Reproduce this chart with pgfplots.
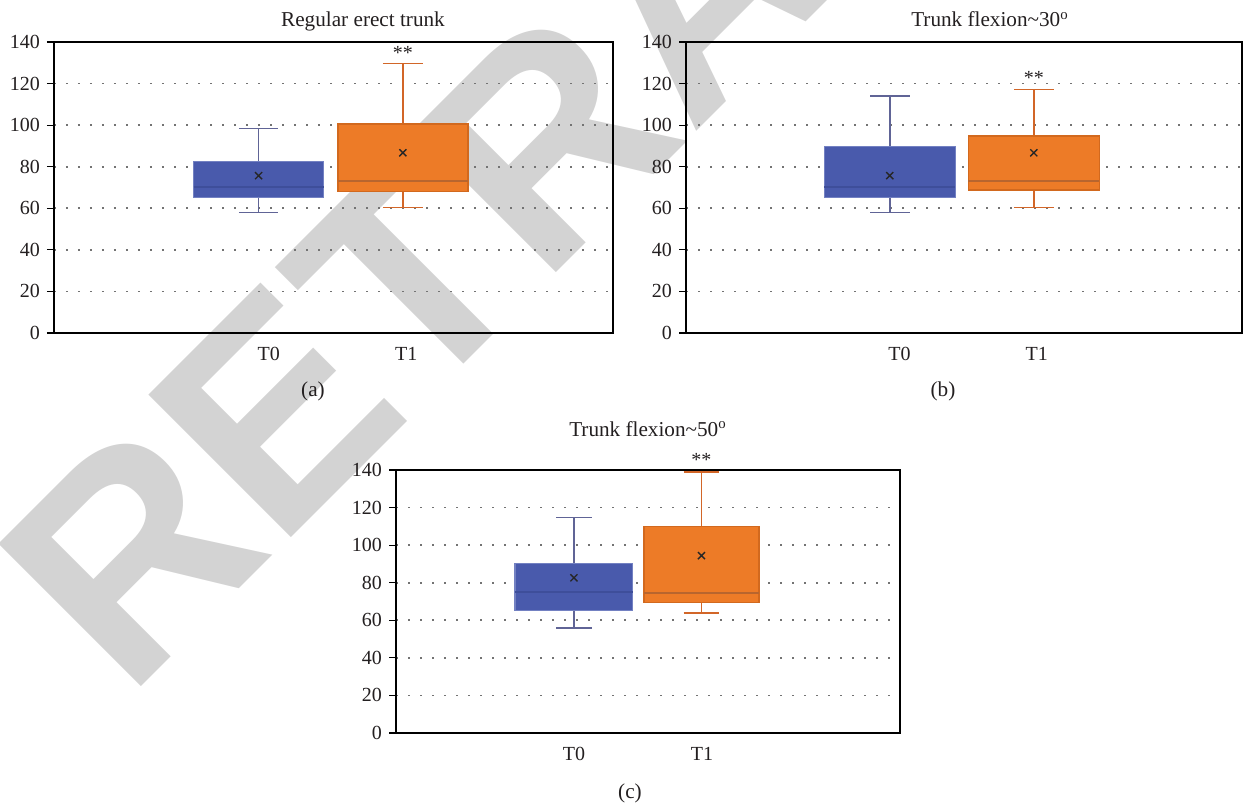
\documentclass[border=0pt]{standalone}
\usepackage{fontspec}
\setmainfont{Liberation Serif}
\newfontfamily\wmfont{Liberation Sans}
\usepackage{pgfplots}
\pgfplotsset{compat=1.18}
\definecolor{bfill}{HTML}{495AAC}
\definecolor{bedge}{HTML}{7381C2}
\definecolor{bmed}{HTML}{3E4E9A}
\definecolor{bwhisk}{HTML}{606496}
\definecolor{ofill}{HTML}{ED7B27}
\definecolor{oedge}{HTML}{D2691E}
\definecolor{omed}{HTML}{B8652E}
\definecolor{owhisk}{HTML}{D26628}
\definecolor{wmgray}{HTML}{D3D3D3}
\definecolor{txt}{HTML}{231F20}
\pgfplotsset{
  panel/.style={
    scale only axis, xmin=0, xmax=1, ymin=0, ymax=140,
    ytick={0,20,...,140},
    axis line style={black, line width=0.6pt},
    tick pos=left, tick align=outside, major tick length=3.5pt,
    xtick style={draw=none},
    ytick style={black, line width=0.6pt},
    ymajorgrids,
    grid style={black!55, line width=0.9pt, dash pattern=on 0.9pt off 5.1pt},
    tick label style={font=\fontsize{10}{12}\selectfont, text=txt},
    /pgf/number format/assume math mode=true,
    clip=false,
  },
  tbox/.style={draw=bedge, fill=bfill, line width=0.6pt},
  tmed/.style={draw=bmed, line width=1pt},
  twh/.style={draw=bwhisk, line width=0.8pt},
  ubox/.style={draw=oedge, fill=ofill, line width=0.7pt},
  umed/.style={draw=omed, line width=1.3pt},
  uwh/.style={draw=owhisk, line width=0.8pt},
  meanmark/.style={only marks, mark=x, mark size=2.5pt, color=black!85, mark options={line width=0.7pt}},
}
\begin{document}
\begin{tikzpicture}
\path[use as bounding box] (0pt,0pt) rectangle (622pt,402.5pt);
\begin{scope}
\clip (0pt,0pt) rectangle (622pt,402.5pt);
\node[rotate=45, text=wmgray, font=\wmfont\bfseries\fontsize{146.5}{146.5}\selectfont, inner sep=0pt] at (347.7pt,407.2pt) {RETRACTED};
\end{scope}

% panel (a)
\begin{axis}[panel, at={(27pt,236pt)}, anchor=south west, width=279.5pt, height=145.5pt,
  xtick={0.384,0.630}, xticklabels={T0,T1}]
% T0: lower whisker 57.9, Q1 65.1, median 70.1, Q3 82.7, upper whisker 98.3
\addplot[twh] coordinates {(0.366,82.7) (0.366,98.3)};
\addplot[twh] coordinates {(0.3305,98.3) (0.4015,98.3)};
\addplot[twh] coordinates {(0.366,65.1) (0.366,57.9)};
\addplot[twh] coordinates {(0.3305,57.9) (0.4015,57.9)};
\addplot[tbox] coordinates {(0.2497,65.1) (0.4823,65.1) (0.4823,82.7) (0.2497,82.7)} --cycle;
\addplot[tmed] coordinates {(0.2497,70.1) (0.4823,70.1)};
% T1: lower whisker 60.3, Q1 68.2, median 73.1, Q3 100.5, upper whisker 129.6
\addplot[uwh] coordinates {(0.624,100.5) (0.624,129.6)};
\addplot[uwh] coordinates {(0.5885,129.6) (0.6595,129.6)};
\addplot[uwh] coordinates {(0.624,68.2) (0.624,60.3)};
\addplot[uwh] coordinates {(0.5885,60.3) (0.6595,60.3)};
\addplot[ubox] coordinates {(0.5077,68.2) (0.7403,68.2) (0.7403,100.5) (0.5077,100.5)} --cycle;
\addplot[umed] coordinates {(0.5077,73.1) (0.7403,73.1)};
\addplot[meanmark] coordinates {(0.366,75.7) (0.624,86.7)};
\node[font=\fontsize{10}{12}\selectfont, text=txt] at (axis cs:0.624,134.5) {**};
\end{axis}

% panel (b)
\begin{axis}[panel, at={(343pt,236pt)}, anchor=south west, width=278pt, height=145.5pt,
  xtick={0.384,0.631}, xticklabels={T0,T1}]
\addplot[twh] coordinates {(0.3665,89.6) (0.3665,114.0)};
\addplot[twh] coordinates {(0.331,114.0) (0.402,114.0)};
\addplot[twh] coordinates {(0.3665,65.3) (0.3665,57.9)};
\addplot[twh] coordinates {(0.331,57.9) (0.402,57.9)};
\addplot[tbox] coordinates {(0.2487,65.3) (0.4843,65.3) (0.4843,89.6) (0.2487,89.6)} --cycle;
\addplot[tmed] coordinates {(0.2487,70.1) (0.4843,70.1)};
\addplot[uwh] coordinates {(0.6255,94.8) (0.6255,117.2)};
\addplot[uwh] coordinates {(0.59,117.2) (0.661,117.2)};
\addplot[uwh] coordinates {(0.6255,68.8) (0.6255,60.3)};
\addplot[uwh] coordinates {(0.59,60.3) (0.661,60.3)};
\addplot[ubox] coordinates {(0.5077,68.8) (0.7433,68.8) (0.7433,94.8) (0.5077,94.8)} --cycle;
\addplot[umed] coordinates {(0.5077,73.1) (0.7433,73.1)};
\addplot[meanmark] coordinates {(0.3665,75.7) (0.6255,86.7)};
\node[font=\fontsize{10}{12}\selectfont, text=txt] at (axis cs:0.6255,122.5) {**};
\end{axis}

% panel (c)
\begin{axis}[panel, at={(198pt,36pt)}, anchor=south west, width=252pt, height=131.5pt,
  xtick={0.353,0.607}, xticklabels={T0,T1}]
\addplot[twh] coordinates {(0.353,90.4) (0.353,114.8)};
\addplot[twh] coordinates {(0.3175,114.8) (0.3885,114.8)};
\addplot[twh] coordinates {(0.353,65.0) (0.353,55.8)};
\addplot[twh] coordinates {(0.3175,55.8) (0.3885,55.8)};
\addplot[tbox] coordinates {(0.236,65.0) (0.470,65.0) (0.470,90.4) (0.236,90.4)} --cycle;
\addplot[tmed] coordinates {(0.236,75.2) (0.470,75.2)};
\addplot[uwh] coordinates {(0.606,109.8) (0.606,138.8)};
\addplot[uwh] coordinates {(0.5705,138.8) (0.6415,138.8)};
\addplot[uwh] coordinates {(0.606,69.5) (0.606,64.0)};
\addplot[uwh] coordinates {(0.5705,64.0) (0.6415,64.0)};
\addplot[ubox] coordinates {(0.492,69.5) (0.720,69.5) (0.720,109.8) (0.492,109.8)} --cycle;
\addplot[umed] coordinates {(0.492,74.6) (0.720,74.6)};
\addplot[meanmark] coordinates {(0.353,82.6) (0.606,94.4)};
\node[font=\fontsize{10}{12}\selectfont, text=txt] at (axis cs:0.606,145.5) {**};
\end{axis}

% titles and captions
\begin{scope}[every node/.style={font=\fontsize{10.6}{12}\selectfont, text=txt, inner sep=0pt}]
\node[anchor=base] at (181.5pt,389pt) {Regular erect trunk};
\node[anchor=base] at (495pt,389pt) {Trunk flexion\textasciitilde30\textsuperscript{o}};
\node[anchor=base] at (324pt,184.5pt) {Trunk flexion\textasciitilde50\textsuperscript{o}};
\node at (156.5pt,207pt) {(a)};
\node at (471.5pt,207pt) {(b)};
\node at (315pt,6pt) {(c)};
\end{scope}
\end{tikzpicture}
\end{document}
